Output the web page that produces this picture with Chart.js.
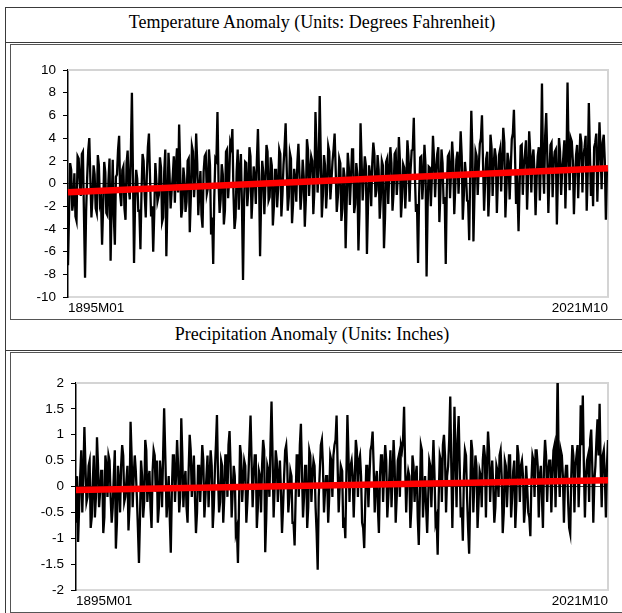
<!DOCTYPE html>
<html>
<head>
<meta charset="utf-8">
<script src="https://cdn.jsdelivr.net/npm/chart.js@4.4.1/dist/chart.umd.min.js"></script>
<style>
  body { margin: 0; background: #fff; width: 622px; height: 613px; position: relative; overflow: hidden; }
  .ln { position: absolute; background: #3a3a3a; }
  .title { position: absolute; left: 6px; width: 612px; text-align: center;
           font-family: "Liberation Serif", "Times New Roman", serif; font-size: 18px; color: #000; }
  .cell { position: absolute; left: 10px; width: 640px; border: 1px solid #555; box-sizing: border-box; }
  canvas { position: absolute; }
</style>
</head>
<body>
<div class="ln" style="left:5px;top:7px;width:617px;height:1px"></div>
<div class="ln" style="left:5px;top:7px;width:1px;height:606px"></div>
<div class="title" style="top:12px">Temperature Anomaly (Units: Degrees Fahrenheit)</div>
<div class="ln" style="left:5px;top:42px;width:617px;height:1px"></div>
<div class="cell" style="top:44px;height:276px"></div>
<div class="title" style="top:324px">Precipitation Anomaly (Units: Inches)</div>
<div class="ln" style="left:5px;top:350px;width:617px;height:1px"></div>
<div class="cell" style="top:352px;height:261px"></div>

<canvas id="tempChart" width="611" height="273" style="left:11px;top:45px"></canvas>
<canvas id="precChart" width="611" height="258" style="left:11px;top:353px"></canvas>

<script>
// x axis: months since 1895M01, last one 2021M10
const tickLabels = ['1895M01', '2021M10'];
const lastMonth = 1521;

// temperature anomaly, degrees F (~every 3 months)
const tempValues = [
  -7.2, -2.6, 1.8, 1.2, -2.4, -1.6, 0.9, -2.9, -3.3, 2.4, 2.2, 0.2, -1.1, 2.6, 2.8, -2.8, -8.3, -2.5, 0.5, 2.9,
  4.0, 0.4, -3.0, -1.2, 1.6, 0.8, -2.2, -2.6, 2.5, 1.6, -1.8, -1.4, -5.4, -2.0, 1.9, 1.0, -2.6, -2.8, 0.3, 2.2,
  -6.8, -1.8, 2.1, -2.9, -5.4, 0.6, 0.8, 3.0, 4.2, -1.0, -2.0, 1.2, 1.5, -2.2, -3.2, 1.8, 2.9, -0.4, -1.4, 2.6,
  8.0, 0.8, -7.0, -1.6, 1.2, 0.4, -2.4, -2.4, -5.8, -0.8, 2.6, 2.0, -1.0, -3.0, 0.7, 3.2, 4.4, 0.6, -2.9, -2.0,
  -6.0, -2.6, 1.8, 0.2, -1.6, -1.0, 2.3, 1.4, -3.4, -3.0, 1.0, 3.0, -6.4, -1.8, 2.7, 0.8, -2.2, -0.6, 0.6, 2.4,
  -1.7, 1.6, 3.1, -0.8, 5.2, 1.2, -3.0, -2.2, 1.4, 0.4, -2.5, -1.6, 2.0, 2.2, -4.3, -1.2, 3.3, 2.8, -1.2, 0.6,
  4.4, 1.8, -2.8, -0.6, 1.1, -2.8, -3.9, 1.0, 2.4, 2.6, -0.9, -0.4, 3.0, 1.6, -4.5, -3.0, -7.1, -1.2, 2.2, 2.0,
  6.3, 0.2, -2.6, -1.4, 1.7, 0.8, -3.6, -2.4, 2.8, 3.0, -1.3, 0.4, 3.6, 3.2, 4.8, -0.8, -4.0, -3.0, 1.0, 3.0,
  -2.3, 1.2, 2.6, -2.0, -8.5, -1.6, 1.9, 1.8, -2.0, -0.6, 3.2, 2.4, -3.1, -1.0, 1.5, 0.6, -1.8, 2.0, 4.8, 0.8,
  -6.4, -1.4, 2.0, 1.0, -2.7, -0.2, 3.4, 2.8, -1.5, -1.2, 2.3, 1.6, -3.7, -2.0, 1.2, 1.2, -2.1, -0.4, 3.0, 2.6,
  -2.9, -1.0, 1.6, 3.2, 5.3, 1.4, -2.4, -1.2, 2.7, 2.2, -3.5, -1.8, 1.3, 0.4, -1.6, 1.8, 3.5, 0.8, -2.3, -0.8,
  2.1, 0.6, -3.8, -1.4, 3.9, 3.0, -1.1, 1.0, 2.4, 2.0, -2.7, -0.6, 6.3, 3.2, -0.8, 1.2, 7.7, 2.4, -3.0, -1.0,
  2.5, 1.6, -2.2, -0.4, 3.3, 2.8, -1.4, 0.2, 1.9, 3.0, 4.4, 1.2, -2.5, -0.8, 2.2, 1.8, -3.3, -2.2, 1.4, 0.6,
  -5.7, -1.6, 2.7, 1.4, -1.9, 0.4, 3.0, 3.0, -2.6, -1.8, 1.8, 0.8, -5.9, -2.4, 5.3, 2.0, -1.5, 0.4, 2.4, 1.6,
  -6.2, -2.0, 1.6, 0.8, -2.0, 1.8, 3.6, 2.6, -1.2, -0.6, 2.5, 1.2, -3.1, -1.4, 2.0, 1.6, -5.7, -3.0, 1.9, 2.2,
  -1.8, 1.0, 3.2, 1.8, -2.4, -0.8, 2.6, 2.8, -1.0, 0.6, 4.1, 2.0, -3.0, -1.2, 1.7, 1.4, -2.2, 0.2, 3.8, 2.4,
  -1.6, 1.2, 2.9, 3.0, 5.8, 0.8, -2.5, -1.8, -7.0, -1.0, 2.3, 2.4, -1.4, 0.4, 3.4, 1.6, -8.2, -2.0, 1.5, 1.4,
  -2.0, 0.6, 4.2, 2.2, -1.2, 1.2, 2.6, 3.2, -3.4, -0.8, 3.0, 1.8, -1.8, -1.2, -7.1, -0.4, 2.4, 2.6, -1.3, 1.0,
  3.7, 2.0, -2.7, -0.2, 2.1, 2.8, -0.9, 1.6, 4.6, 2.4, -3.2, -1.0, 1.9, 0.8, -1.5, -1.6, -5.0, 1.2, 6.4, 3.0,
  -5.1, -0.8, 2.8, 2.4, -1.0, 1.4, 3.5, 4.0, 6.0, 1.8, -2.4, 0.2, 2.2, 2.8, -2.9, -0.6, 4.3, 3.2, -1.1, 1.6,
  3.1, 2.4, -2.6, 0.4, 2.5, 3.0, -0.7, 1.8, 4.9, 3.6, -3.0, -0.4, 2.7, 2.0, -1.4, 1.2, 3.9, 4.4, 6.5, 2.6,
  -1.8, 0.8, -4.2, -0.2, 3.3, 3.4, -1.0, 1.6, 2.6, 3.8, -2.3, 0.6, 4.6, 2.8, -0.8, 2.2, 3.0, 1.0, -2.8, 0.4,
  2.4, 3.2, -1.5, 2.0, 8.8, 1.4, -0.9, 4.2, 6.2, 2.4, -2.6, 0.8, 3.4, 3.6, -1.2, 1.8, 2.8, 3.0, -3.6, 0.6,
  4.0, 2.8, -1.0, 1.2, 2.3, 3.8, -2.2, 1.6, 8.9, 2.6, -0.6, 4.0, 3.7, 2.0, -2.7, 0.4, 2.5, 3.4, -1.3, 1.8,
  4.4, 3.6, -0.8, 2.4, 3.2, 4.2, -2.4, 1.0, 7.1, 2.8, -1.1, 1.4, -2.0, 3.2, 3.6, 4.4, -1.6, 1.8, 5.4, 3.0,
  -0.5, 3.6, 4.3, 2.0, -3.2, 1.2, 1.0
];
const tempTrend = [-0.77, 1.35];
const tempTicks = [-10, 10, 2];

// precipitation anomaly, inches
const precValues = [
  -0.7, 0.2, -1.07, -0.4, 0.2, 0.7, -0.5, 0.2, 1.15, 0.4, -0.3, -0.2, 0.4, 0.5, -0.8, -0.6, 0.1, 0.6, -0.6, -0.2,
  0.95, 0.4, -0.4, -0.1, 0.3, 0.3, -0.9, -0.6, 0.6, 0.4, -0.2, 0.6, 0.5, -0.2, -0.7, -0.4, 0.2, 0.7, -1.2, -0.7,
  0.4, 0.1, -0.5, 0.4, 0.8, 0.6, -0.3, -0.2, 0.1, 0.4, -0.85, -0.4, 1.25, 0.6, -0.4, 0.2, 0.6, 0.3, -0.2, -0.8,
  -1.48, -0.6, 0.5, 0.2, -0.6, -0.3, 0.9, 0.7, -0.3, 0.1, 0.3, -0.4, -0.8, 0.3, 0.7, 0.6, -0.1, 0.5, -0.7, -0.4,
  0.5, 0.2, -0.4, 0.6, 1.51, 0.4, -0.6, -0.2, 0.2, -0.6, -1.28, -0.1, 0.6, 0.6, -0.3, 0.2, 0.9, 0.4, -0.5, -0.2,
  1.32, 0.6, -0.4, 0.1, 0.3, -0.4, -0.7, 0.3, 1.0, 0.7, -0.2, 0.2, 0.6, -0.2, -0.9, -0.5, 0.4, 0.4, -0.3, 0.2,
  0.8, 0.5, -0.6, -0.2, 0.2, 0.6, -0.4, 0.2, 0.7, 0.4, -0.8, -0.4, 0.3, 0.8, 1.38, 0.2, -0.5, -0.3, 0.5, 0.4,
  -0.7, -0.2, 0.6, 0.6, -0.2, 0.8, 1.07, 0.4, -0.6, -0.1, 0.4, 0.2, -0.9, -0.8, -1.48, -0.4, 0.8, 0.6, -0.3, 0.1,
  0.5, 0.4, -0.7, -0.3, 0.2, 0.8, 1.37, 0.5, -0.4, 0.2, 0.6, 0.6, -0.8, -0.4, 0.3, 0.2, -0.5, 0.4, 0.9, 0.7,
  -1.27, -0.6, 0.4, 0.3, -0.2, 0.8, 1.64, 0.6, -0.6, 0.0, 0.7, 0.5, -0.3, 0.2, 0.5, -0.1, -0.9, -0.4, 0.2, 0.7,
  0.8, 0.4, -0.5, -0.2, 0.3, 0.2, -0.7, -0.7, -1.14, -0.2, 0.6, 0.6, -0.2, 0.8, 1.21, 0.3, -0.6, -0.2, 0.4, 0.4,
  -0.8, -0.4, 0.7, 0.6, -0.3, 0.2, 0.5, 0.4, -0.4, -0.9, -1.61, -0.2, 0.3, 0.8, 0.9, 0.4, -0.5, -0.1, 0.2, 0.2,
  -0.7, -0.2, 0.6, 0.5, -0.2, 0.6, 0.8, 0.9, 1.37, 0.4, -0.5, 0.0, 0.4, 0.3, -0.8, -0.6, -1.0, 0.2, 1.38, 0.6,
  -0.3, 0.4, 0.5, 0.2, -0.6, 0.1, 0.9, 0.7, -0.2, 0.5, 0.6, 0.2, -0.7, -0.8, -1.19, -0.3, 0.4, 0.4, -0.4, 0.2,
  0.7, 0.8, 1.06, 0.4, -0.5, 0.1, 0.3, -0.4, -0.9, 0.2, 0.6, 0.6, -0.3, 0.3, 0.8, 0.5, -0.6, -0.2, 0.2, 0.7,
  -0.4, 0.2, 0.9, 0.4, -0.7, -0.2, 0.5, 0.6, -0.2, 0.8, 0.7, 0.9, 1.54, 0.4, -0.5, 0.1, 0.3, 0.2, -0.8, -0.4,
  0.6, 0.4, -0.3, 0.2, 0.4, -0.6, -1.13, -0.2, 0.8, 0.7, -0.6, -0.1, 0.2, -0.4, -0.9, -0.2, 0.5, 0.4, -0.4, 0.3,
  0.9, 0.2, -0.7, -0.6, -1.32, -0.2, 0.6, 0.5, -0.3, 0.8, 1.0, 0.6, -0.5, 0.2, 0.4, 0.9, 1.74, 0.4, -0.8, 0.2,
  1.54, 0.6, -0.4, 0.9, 1.36, 0.4, -0.6, -0.4, -1.05, 0.2, 0.7, 0.6, -0.2, -0.8, -1.3, -0.2, 0.9, 0.7, -0.5, 0.1,
  0.6, 0.4, -0.8, -0.3, 0.3, 0.2, -0.4, 0.5, 0.8, 0.6, -0.6, 0.4, 1.06, 0.7, -0.3, 0.2, 0.5, 0.0, -0.7, -0.4,
  0.4, 0.3, -0.2, 0.6, 0.7, 0.2, -0.9, -0.5, 0.5, 0.4, -0.4, 0.1, 0.6, 0.6, -0.6, -0.2, 0.3, 0.5, -0.8, -0.3,
  0.8, 0.6, -0.3, 0.4, 0.5, 0.2, -0.7, -0.4, 0.4, 0.0, -0.5, -0.6, -0.96, 0.1, 0.6, 0.5, -0.2, 0.7, 0.7, 0.4,
  -0.6, 0.2, 0.4, -0.2, -0.8, 0.4, 0.9, 0.6, -0.3, 0.3, 0.5, 0.5, -0.5, 0.2, 0.7, 0.8, -0.4, 0.6, 2.19, 0.4,
  -0.2, 0.7, 0.6, 0.2, -0.7, 0.1, 0.4, 0.4, -0.3, -0.8, -0.91, 0.2, 0.8, 0.6, -0.5, 0.4, 0.6, 0.8, -0.4, 0.3,
  1.57, 0.8, 1.76, 0.4, -0.6, 0.2, 0.5, 0.6, -0.3, 0.9, 1.1, 0.4, -0.7, 0.1, 0.4, 0.9, 1.3, 0.6, 1.6, 0.4,
  -0.4, 0.6, 0.7, 0.2, -0.6, 0.4, 0.9
];
const precTrend = [-0.07, 0.12];
const precTicks = [-2, 2, 0.5];

function toPoints(vals) {
  const step = lastMonth / (vals.length - 1);
  return vals.map((v, i) => ({ x: Math.round(i * step), y: v }));
}

// light grey frame on top and right of the plot, like the spreadsheet chart
const plotFrame = {
  id: 'plotFrame',
  beforeDatasetsDraw(chart) {
    const a = chart.chartArea, c = chart.ctx;
    c.save();
    c.strokeStyle = '#d4d4d4';
    c.lineWidth = 2;
    c.beginPath();
    c.moveTo(a.left, a.top);
    c.lineTo(a.right, a.top);
    c.lineTo(a.right, a.bottom);
    c.stroke();
    c.restore();
  }
};

function makeChart(id, vals, trend, ticks, leftW, topPad, xAxisH) {
  new Chart(document.getElementById(id), {
    type: 'line',
    data: {
      datasets: [{
        data: [{ x: 0, y: trend[0] }, { x: lastMonth, y: trend[1] }],
        borderColor: '#ff0000',
        borderWidth: 6.5,
        pointRadius: 0,
        clip: 4
      }, {
        data: toPoints(vals),
        borderColor: '#000',
        borderWidth: 2.3,
        pointRadius: 0,
        tension: 0
      }]
    },
    options: {
      responsive: false,
      animation: false,
      layout: { padding: { top: topPad, right: 14, left: 0, bottom: 0 } },
      plugins: { legend: { display: false }, tooltip: { enabled: false } },
      scales: {
        x: {
          type: 'linear',
          min: 0,
          max: lastMonth,
          afterBuildTicks: s => { s.ticks = [{ value: 0 }, { value: lastMonth }]; },
          afterFit: s => { s.height = xAxisH; },
          ticks: {
            autoSkip: false,
            maxRotation: 0,
            align: 'inner',
            padding: 3,
            color: '#000',
            font: { family: 'Liberation Sans, Arial, sans-serif', size: 13.5 },
            callback: v => (v === 0 ? tickLabels[0] : tickLabels[1])
          },
          grid: { display: false, drawTicks: false },
          border: { display: true, color: '#d9d9d9', width: 2 }
        },
        y: {
          min: ticks[0],
          max: ticks[1],
          afterFit: s => { s.width = leftW; },
          ticks: {
            stepSize: ticks[2],
            padding: 7,
            color: '#000',
            font: { family: 'Liberation Sans, Arial, sans-serif', size: 13.5 },
            callback: v => String(+v.toFixed(2))
          },
          grid: {
            drawOnChartArea: true,
            tickLength: 5,
            tickColor: '#000',
            color: c => (c.tick && c.tick.value === 0 ? '#333' : 'rgba(0,0,0,0)'),
            lineWidth: 1
          },
          border: { display: true, color: '#000', width: 1.5 }
        }
      }
    },
    plugins: [plotFrame]
  });
}

makeChart('tempChart', tempValues, tempTrend, tempTicks, 57, 25, 21);
makeChart('precChart', precValues, precTrend, precTicks, 65, 30, 21);
</script>
</body>
</html>
